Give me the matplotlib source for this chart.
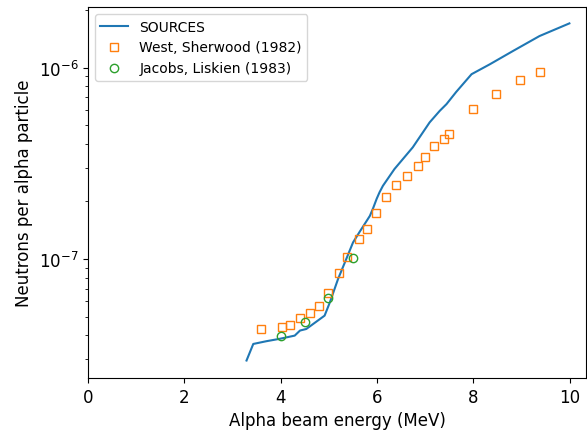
import matplotlib
matplotlib.use("Agg")
import matplotlib.pyplot as plt

# SOURCES calculation (alpha energy MeV, neutrons per alpha)
src_E = [3.29, 3.43, 3.70, 3.98, 4.29, 4.40, 4.53, 4.91, 5.02, 5.19, 5.36, 5.50,
         5.64, 5.71, 5.85, 5.92, 5.99, 6.05, 6.12, 6.36, 6.74, 7.09, 7.30, 7.44,
         7.64, 7.96, 8.34, 8.82, 9.37, 9.99]
src_Y = [2.95e-8, 3.6e-8, 3.72e-8, 3.83e-8, 3.98e-8, 4.23e-8, 4.31e-8, 5.06e-8,
         5.94e-8, 7.87e-8, 1.0e-7, 1.22e-7, 1.39e-7, 1.48e-7, 1.68e-7, 1.85e-7,
         2.06e-7, 2.23e-7, 2.41e-7, 2.95e-7, 3.83e-7, 5.17e-7, 5.94e-7, 6.44e-7,
         7.45e-7, 9.23e-7, 1.04e-6, 1.22e-6, 1.46e-6, 1.70e-6]

# West, Sherwood (1982)
ws_E = [3.60, 4.02, 4.19, 4.41, 4.60, 4.79, 4.99, 5.20, 5.38, 5.63, 5.80, 5.98,
        6.19, 6.40, 6.63, 6.84, 6.99, 7.19, 7.38, 7.49, 7.99, 8.47, 8.96, 9.37]
ws_Y = [4.31e-8, 4.43e-8, 4.54e-8, 4.92e-8, 5.22e-8, 5.66e-8, 6.65e-8, 8.42e-8,
        1.02e-7, 1.27e-7, 1.43e-7, 1.74e-7, 2.10e-7, 2.43e-7, 2.71e-7, 3.05e-7,
        3.42e-7, 3.88e-7, 4.23e-7, 4.49e-7, 6.08e-7, 7.26e-7, 8.61e-7, 9.48e-7]

# Jacobs, Liskien (1983)
jl_E = [4.0, 4.51, 4.99, 5.50]
jl_Y = [3.98e-8, 4.71e-8, 6.24e-8, 1.01e-7]

fig = plt.figure(figsize=(5.87, 4.31), dpi=100)
ax = fig.add_axes([0.1499, 0.1206, 0.8484, 0.8608])

ax.plot(src_E, src_Y, color='C0', label='SOURCES')
ax.plot(ws_E, ws_Y, 's', mfc='none', color='C1', label='West, Sherwood (1982)')
ax.plot(jl_E, jl_Y, 'o', mfc='none', color='C2', label='Jacobs, Liskien (1983)')

ax.set_yscale('log')
ax.set_xlim(0, 10.335)
ax.set_ylim(2.39e-8, 2.07e-6)
ax.set_xlabel('Alpha beam energy (MeV)', fontsize=12)
ax.set_ylabel('Neutrons per alpha particle', fontsize=12)
ax.tick_params(labelsize=12)
ax.legend(loc='upper left')

fig.savefig('out.png', dpi=100)
